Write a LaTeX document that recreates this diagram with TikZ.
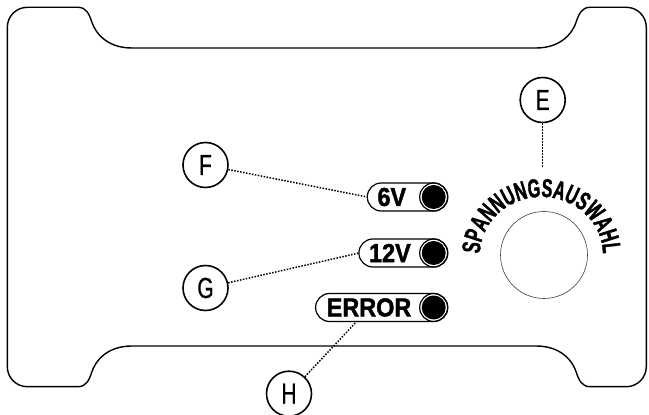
\documentclass[tikz,border=0pt]{standalone}
\usepackage{fontspec}
\setmainfont{Liberation Sans}
\newfontfamily\lblfont[FakeStretch=0.72,FakeBold=0.8]{Liberation Sans}
\newfontfamily\arcfont[FakeStretch=0.62,FakeBold=1.4]{Liberation Sans}
\newfontfamily\pillfont[FakeStretch=0.9,FakeBold=1.6]{Liberation Sans}
\usetikzlibrary{decorations.text,calc}
\begin{document}
\begin{tikzpicture}[x=1pt,y=1pt,
  outline/.style={line width=1.4pt, line join=round},
  lbl/.style={circle, draw, line width=1.6pt, minimum size=45pt, inner sep=0pt, font=\lblfont\fontsize{29}{29}\selectfont},
  pill/.style={draw, line width=1.2pt, rounded corners=14pt, minimum height=28pt, inner sep=0pt, outer sep=0pt, anchor=east},
  pilltext/.style={anchor=west, inner sep=0pt, font=\pillfont\bfseries\fontsize{26}{26}\selectfont},
  ledring/.style={circle, draw, line width=1.2pt, minimum size=28pt, inner sep=0pt},
  leddot/.style={circle, fill=black, minimum size=24pt, inner sep=0pt},
  leader/.style={line width=1.5pt, dash pattern=on 1.5pt off 1.5pt},
  knobstyle/.style={circle, draw=black!75, line width=0.6pt, minimum size=87pt, inner sep=0pt}
]
\useasboundingbox (0,0) rectangle (649,415);
% housing outline
\draw[outline] (7.3,48.3) -- (7.3,387.7) arc[start angle=180,end angle=90,radius=20] -- (78,407.7)
 .. controls (86,407.7) and (89.2,401.1) .. (91.7,393.3)
 .. controls (95,383) and (106,367) .. (132,367)
 -- (536,367)
 .. controls (562,367) and (573,383) .. (576.3,393.3)
 .. controls (578.8,401.1) and (582,407.7) .. (590,407.7)
 -- (626.3,407.7) arc[start angle=90,end angle=0,radius=20]
 -- (646.3,48.3) arc[start angle=0,end angle=-90,radius=20]
 -- (590,28.3)
 .. controls (582,28.3) and (578.8,34.9) .. (576.3,42.7)
 .. controls (573,53) and (562,69) .. (536,69)
 -- (132,69)
 .. controls (106,69) and (95,53) .. (91.7,42.7)
 .. controls (89.2,34.9) and (86,28.3) .. (78,28.3)
 -- (27.3,28.3) arc[start angle=270,end angle=180,radius=20] -- cycle;

% knob
\node[knobstyle] (knob) at (544,160) {};
\path[decorate, decoration={text along path, text align=center,
  text={|\arcfont\bfseries\fontsize{26}{26}\selectfont|SPANNUNGSAUSWAHL}}]
  (483.7,140.2) arc[start angle=200,end angle=-20,x radius=61.5,y radius=58];

% LED pills
\node[pill, minimum width=80.4pt] (p6) at (447.7,218) {};
\node[pill, minimum width=88.8pt] (p12) at (447.7,162) {};
\node[pill, minimum width=132.1pt] (perr) at (447.7,107.5) {};
\node[ledring] (r6) at ($(p6.east)+(-14,0)$) {};
\node[ledring] (r12) at ($(p12.east)+(-14,0)$) {};
\node[ledring] (rerr) at ($(perr.east)+(-14,0)$) {};
\node[leddot] (d6) at (r6) {};
\node[leddot] (d12) at (r12) {};
\node[leddot] (derr) at (rerr) {};
\node[pilltext] (t6) at ($(p6.west)+(10,0)$) {6V};
\node[pilltext] (t12) at ($(p12.west)+(10,0)$) {12V};
\node[pilltext] (terr) at ($(perr.west)+(11,0)$) {ERROR};

% callout labels
\node[lbl] (E) at (542.7,315) {E};
\node[lbl] (F) at (205.5,250) {F};
\node[lbl] (G) at (205.5,127) {G};
\node[lbl] (H) at (289,21.3) {H};
\coordinate (Eend) at (542.7,247);
\draw[leader] (E) -- (Eend);
\draw[leader] (F) -- (p6.west);
\draw[leader] (G) -- (p12.west);
\draw[leader] (H) -- ([xshift=-25pt]perr.south);
\end{tikzpicture}
\end{document}
